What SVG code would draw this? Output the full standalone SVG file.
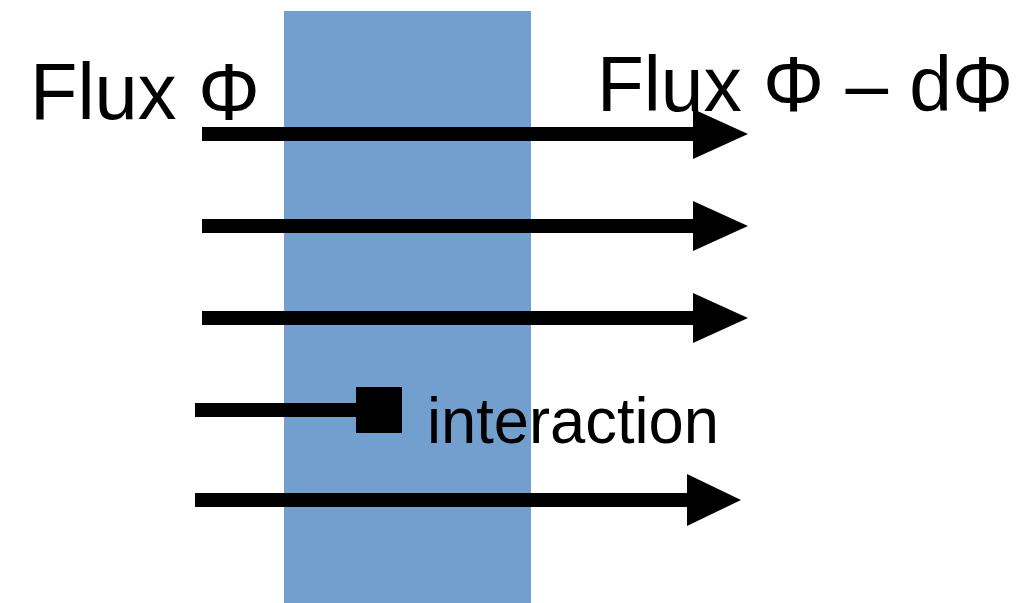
<svg xmlns="http://www.w3.org/2000/svg" width="1028" height="603" viewBox="0 0 1028 603">
  <style>
    .ray { stroke: #000; stroke-width: 14; fill: none; }
    .head { fill: #000; }
    .lbl { font-family: "Liberation Sans", Arial, sans-serif; fill: #000; }
  </style>
  <rect width="1028" height="603" fill="#fff"/>

  <!-- absorbing slab -->
  <g id="slab">
    <rect x="284" y="11" width="247" height="592" fill="#739fcf"/>
  </g>

  <!-- flux rays -->
  <g id="connectors">
    <line class="ray" x1="202" y1="134" x2="695" y2="134"/>
    <polygon class="head" points="693,109 748,134 693,159"/>
    <line class="ray" x1="202" y1="226" x2="695" y2="226"/>
    <polygon class="head" points="693,201 748,226 693,251"/>
    <line class="ray" x1="202" y1="318" x2="695" y2="318"/>
    <polygon class="head" points="693,293 748,318 693,343"/>
    <line class="ray" x1="195" y1="410" x2="360" y2="410"/>
    <line class="ray" x1="195" y1="500" x2="689" y2="500"/>
    <polygon class="head" points="687,474 741,500 687,526"/>
  </g>

  <!-- absorption event -->
  <g id="interaction">
    <rect x="356" y="387" width="46" height="46" fill="#000"/>
    <text class="lbl" x="427" y="443" font-size="64" textLength="292" lengthAdjust="spacingAndGlyphs">interaction</text>
  </g>

  <g id="flux-in">
    <text class="lbl" x="30" y="119" font-size="80" textLength="230" lengthAdjust="spacingAndGlyphs">Flux Φ</text>
  </g>

  <g id="flux-out">
    <text class="lbl" x="597" y="111" font-size="78" textLength="416" lengthAdjust="spacingAndGlyphs">Flux Φ – dΦ</text>
  </g>
</svg>
